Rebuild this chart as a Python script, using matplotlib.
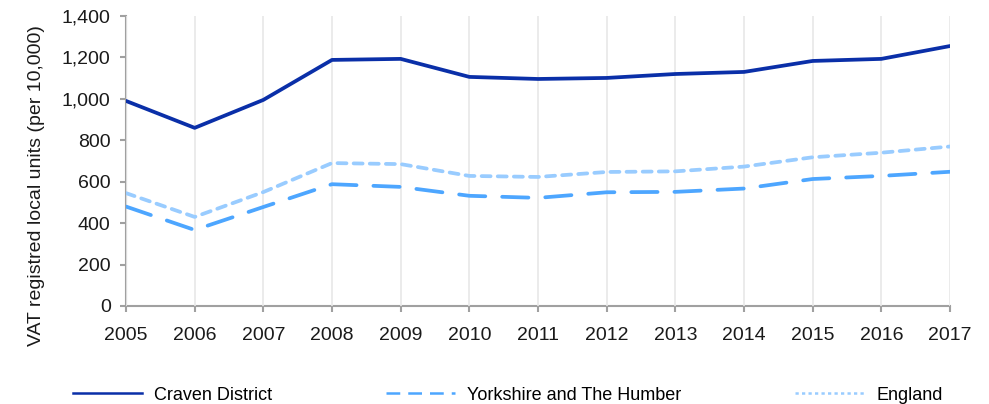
import matplotlib
matplotlib.use("Agg")
import matplotlib.pyplot as plt
from matplotlib.lines import Line2D
from matplotlib.ticker import FuncFormatter

plt.rcParams['font.family'] = ['Liberation Sans', 'DejaVu Sans']

years = list(range(2005, 2018))
craven = [990, 860, 995, 1188, 1193, 1106, 1096, 1101, 1120, 1130, 1183, 1193, 1255]
yorkshire = [480, 367, 478, 588, 575, 532, 522, 549, 551, 567, 613, 628, 648]
england = [545, 430, 550, 690, 685, 628, 623, 647, 650, 673, 718, 740, 770]
series_names = ['Craven District', 'Yorkshire and The Humber', 'England']

c_dark = '#0a2fa8'
c_mid = '#4da6ff'
c_light = '#99ccff'
axis_grey = '#a0a0a0'
fs = 14

fig = plt.figure(figsize=(9.89, 4.04), dpi=100)
ax = fig.add_axes([126/989, 1 - 306/404, (950 - 126)/989, (306 - 16)/404])

lw = 2.7
ax.plot(years, craven, color=c_dark, lw=lw, solid_capstyle='round', zorder=4)
l2, = ax.plot(years, yorkshire, color=c_mid, lw=lw, dash_capstyle='round', zorder=3)
l2.set_dashes([7, 4.5])
l3, = ax.plot(years, england, color=c_light, lw=lw, dash_capstyle='round', zorder=2)
l3.set_dashes([2.4, 1.9])

ax.set_xlim(2005, 2017)
ax.set_ylim(0, 1400)
ax.set_xticks(years)
ax.set_yticks(range(0, 1401, 200))
ax.yaxis.set_major_formatter(FuncFormatter(lambda v, p: f'{int(v):,}'))

ax.grid(axis='x', color='#e8e8e8', lw=1.2, zorder=0)
ax.grid(axis='y', visible=False)
for s in ['top', 'right']:
    ax.spines[s].set_visible(False)
for s in ['left', 'bottom']:
    ax.spines[s].set_color(axis_grey)
    ax.spines[s].set_linewidth(1.5)
    ax.spines[s].set_zorder(1)
ax.tick_params(axis='both', colors=axis_grey, labelcolor='#1a1a1a',
               labelsize=fs, length=4, width=1.5)
ax.tick_params(axis='y', pad=7)
ax.tick_params(axis='x', pad=11)

ax.set_ylabel('VAT registred local units (per 10,000)', fontsize=fs, color='#1a1a1a')
ax.yaxis.set_label_coords(-81/824, 0.417)

handles = [
    Line2D([], [], color=c_dark, lw=1.8),
    Line2D([], [], color=c_mid, lw=1.8, dashes=[5.5, 3.2]),
    Line2D([], [], color=c_light, lw=1.8, dashes=[1.3, 1.3]),
]
fig.legend(handles, series_names, loc='center left', bbox_to_anchor=(73/989, 1 - 395/404),
           ncol=3, frameon=False, fontsize=13, handlelength=3.8, handletextpad=0.7,
           columnspacing=6.3, borderpad=0, borderaxespad=0)

fig.savefig('out.png', dpi=100)
